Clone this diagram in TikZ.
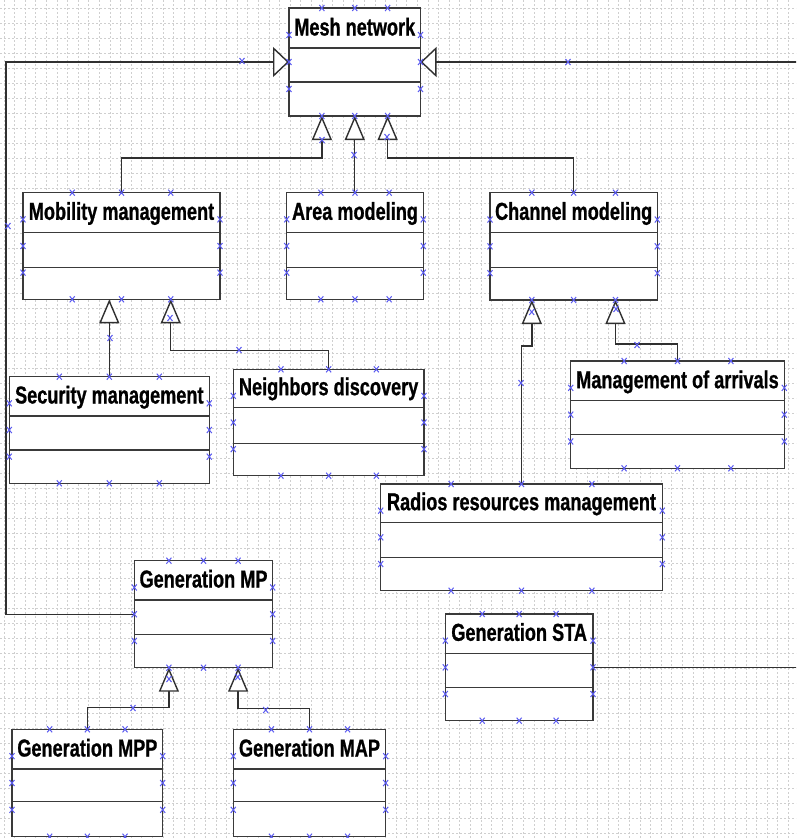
\documentclass[tikz,border=0pt]{standalone}
\usepackage{fontspec}
\setmainfont{Liberation Sans}[FakeStretch=0.74, BoldFeatures={FakeBold=0.8}]
\usetikzlibrary{arrows.meta,calc}
\definecolor{boxc}{HTML}{3A3A3A}
\definecolor{linec}{HTML}{303030}
\definecolor{mkc}{HTML}{5A5AF0}
\definecolor{gridc}{HTML}{CFCFCF}
\tikzset{
 boxs/.style={draw=boxc, line width=1.5pt, fill=white, rectangle, inner sep=0pt, outer sep=0pt, anchor=north west},
 divl/.style={draw=boxc, line width=1.5pt},
 ttl/.style={font=\fontsize{24.5}{26}\selectfont\bfseries, text=black, inner sep=0pt, anchor=base},
 conn/.style={draw=linec, line width=1.4pt},
 genv/.style={-{Triangle[open, fill=white, length=24pt, width=20pt]}},
 genh/.style={-{Triangle[open, fill=white, length=16pt, width=30pt]}},
 mk/.style={draw=mkc, line width=1pt},
 xm/.pic={\draw[mk] (-2.5,-3) -- (2.5,3) (-2.5,3) -- (2.5,-3);},
 gridl/.style={draw=gridc, line width=0.7pt, dash pattern=on 2pt off 2pt}
}
\newcommand\umlbox[8]{%
 \node[boxs, minimum width={#4pt-#2pt}, minimum height={#5pt-#3pt}] (#1) at (#2,#3) {};
 \draw[divl] (#2,#6) -- (#4,#6);
 \draw[divl] (#2,#7) -- (#4,#7);
 \node[ttl] at ({(#2+#4)/2},{#6-12.5}) {#8};
 \coordinate (#1-b1) at ($(#1.south west)!0.25!(#1.south east)$);
 \coordinate (#1-b3) at ($(#1.south west)!0.75!(#1.south east)$);
}
\newcommand\boxmarks[1]{%
 \foreach \f in {0.25,0.5,0.75}{
  \pic at ($(#1.north west)!\f!(#1.north east)$) {xm};
  \pic at ($(#1.south west)!\f!(#1.south east)$) {xm};
  \pic at ($(#1.north west)!\f!(#1.south west)$) {xm};
  \pic at ($(#1.north east)!\f!(#1.south east)$) {xm};
 }%
}
\begin{document}
\begin{tikzpicture}[x=1pt,y=-1pt]
\useasboundingbox (0,0) rectangle (796,838);
\clip (0,0) rectangle (796,838);
\fill[white] (0,0) rectangle (796,838);
% grid
\foreach \i in {0,...,75} \draw[gridl] ({3.9+10.6*\i},0) -- ({3.9+10.6*\i},838);
\foreach \j in {0,...,56} \draw[gridl] (0,{8+15*\j}) -- (796,{8+15*\j});
% boxes
\umlbox{mesh}{289}{8}{420.5}{116}{48}{82}{Mesh network}
\umlbox{mob}{23}{192.7}{220}{299.3}{232.3}{267.3}{Mobility management}
\umlbox{area}{286.7}{192.7}{423.3}{299.3}{232.3}{267.3}{Area modeling}
\umlbox{chan}{490}{192.7}{657.3}{300}{232.3}{267.3}{Channel modeling}
\umlbox{sec}{9.3}{376.7}{209.3}{483.3}{416}{450}{Security management}
\umlbox{nei}{233.3}{369.3}{424}{475.7}{407.7}{443.3}{Neighbors discovery}
\umlbox{mgmt}{570.7}{361}{784.3}{468.3}{400.7}{434.3}{Management of arrivals}
\umlbox{rad}{380.7}{484}{662.3}{590.7}{522.7}{557.7}{Radios resources management}
\umlbox{genmp}{134.3}{560.7}{272.7}{667.7}{600}{634.3}{Generation MP}
\umlbox{gensta}{445.3}{614}{593}{720.7}{653.3}{687.7}{Generation STA}
\umlbox{mpp}{12}{729.3}{162.7}{836.7}{769}{801.7}{Generation MPP}
\umlbox{map}{233.3}{729.3}{385.7}{836.7}{769}{801.7}{Generation MAP}
\coordinate (mesh-b2) at (mesh.south);
\coordinate (Lx) at (6,0);
\coordinate (Rx) at (810,0);
% connectors
\draw[conn,genh] (genmp.west) -- (genmp.west -| Lx) -- (mesh.west -| Lx) -- (mesh.west);
\draw[conn,genh] (gensta.east) -- (gensta.east -| Rx) -- (mesh.east -| Rx) -- (mesh.east);
\draw[conn,genv] (mob.north) |- ($(mesh-b1)+(0,42)$) -- (mesh-b1);
\draw[conn,genv] (mesh-b2 |- area.north) -- (mesh-b2);
\draw[conn,genv] (chan.north) |- ($(mesh-b3)+(0,42)$) -- (mesh-b3);
\draw[conn,genv] (sec.north) -- (sec.north |- mob.south);
\draw[conn,genv] (nei.north) |- ($(mob-b3)+(0,51)$) -- (mob-b3);
\draw[conn,genv] (rad.north) |- ($(chan-b1)+(0,46)$) -- (chan-b1);
\draw[conn,genv] (mgmt.north) |- ($(chan-b3)+(0,44)$) -- (chan-b3);
\draw[conn,genv] (mpp.north) |- ($(genmp-b1)+(0,40)$) -- (genmp-b1);
\draw[conn,genv] (map.north) |- ($(genmp-b3)+(0,41)$) -- (genmp-b3);
% markers
\foreach \b in {mesh,mob,area,chan,sec,nei,mgmt,rad,genmp,gensta,mpp,map} {\boxmarks{\b}}
\foreach \p in {(242,61),(8,226),(568,62),(322,140),(354,155),(387,137),(110,338),(170,318),(239,350),(531.7,312),(521,383),(616,309),(637,345),(169,679),(133,708),(237.7,677),(265.7,710)} {\pic at \p {xm};}
\end{tikzpicture}
\end{document}
